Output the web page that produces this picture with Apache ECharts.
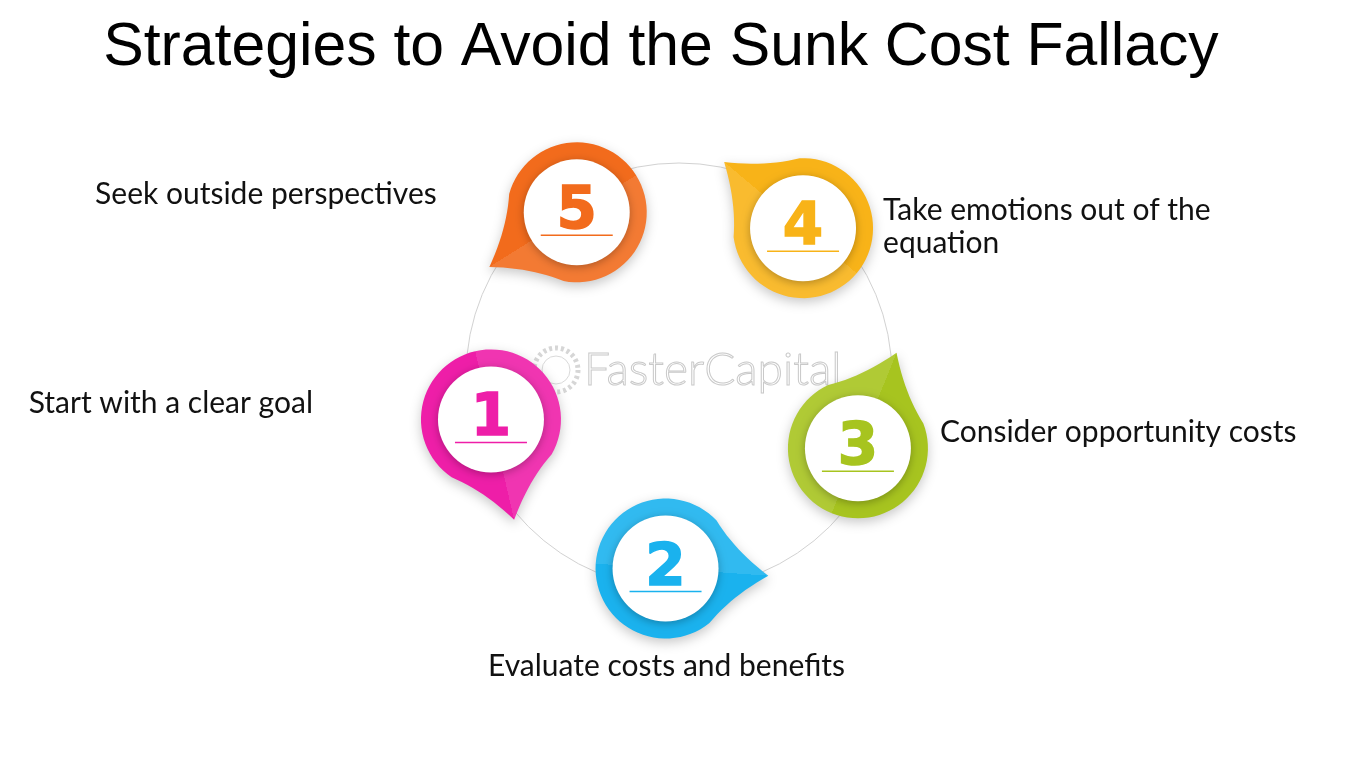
<!DOCTYPE html>
<html>
<head>
<meta charset="utf-8">
<title>Strategies to Avoid the Sunk Cost Fallacy</title>
<script src="https://cdn.jsdelivr.net/npm/echarts@6/dist/echarts.min.js"></script>
<style>
  html, body { margin: 0; padding: 0; background: #ffffff; }
  #main { width: 1359px; height: 759px; }
</style>
</head>
<body>
<div id="main"></div>
<script>
var steps  = ['1', '2', '3', '4', '5'];
var labels = [
    'Start with a clear goal',
    'Evaluate costs and benefits',
    'Consider opportunity costs',
    'Take emotions out of the\nequation',
    'Seek outside perspectives'
];
// position of each step around the ring, degrees (0 = east, counter-clockwise)
var angles = [193, 266, 338, 50, 122];
var colors = ['#EE1EA8', '#1AB2EE', '#A7C41F', '#F8B318', '#F26B1C'];

// where each caption sits next to its marker
var labelLayout = [
    { align: 'right',  dx: -178, dy: -16 },
    { align: 'center', dx: 1,    dy: 98 },
    { align: 'left',   dx: 82,   dy: -16 },
    { align: 'left',   dx: 80,   dy: -1 },
    { align: 'right',  dx: -140, dy: -18 }
];

var lighten = function (hex, k) {
    var n = parseInt(hex.slice(1), 16);
    var r = n >> 16, g = (n >> 8) & 255, b = n & 255;
    r = Math.round(r + (255 - r) * k);
    g = Math.round(g + (255 - g) * k);
    b = Math.round(b + (255 - b) * k);
    return 'rgb(' + r + ',' + g + ',' + b + ')';
};

// teardrop outline: round part of radius R, tip at distance d along (ux, uy)
var dropPoints = function (cx, cy, ux, uy, R, d) {
    var pts = [];
    var base = Math.atan2(uy, ux);
    var phi = Math.acos(R / d);
    var tip = [cx + ux * d, cy + uy * d];
    var a0 = base + phi, a1 = base + 2 * Math.PI - phi;
    var A = [cx + R * Math.cos(a0), cy + R * Math.sin(a0)];
    var B = [cx + R * Math.cos(a1), cy + R * Math.sin(a1)];
    var bend = function (P) {
        var mx = (tip[0] + P[0]) / 2, my = (tip[1] + P[1]) / 2;
        return [mx + (cx - mx) * 0.1, my + (cy - my) * 0.1];
    };
    var q = function (P0, C, P1, t) {
        var s = 1 - t;
        return [s * s * P0[0] + 2 * s * t * C[0] + t * t * P1[0],
                s * s * P0[1] + 2 * s * t * C[1] + t * t * P1[1]];
    };
    var i, cA = bend(A), cB = bend(B);
    for (i = 0; i < 12; i++) pts.push(q(tip, cA, A, i / 12));
    for (i = 0; i <= 60; i++) {
        var a = a0 + (a1 - a0) * i / 60;
        pts.push([cx + R * Math.cos(a), cy + R * Math.sin(a)]);
    }
    for (i = 1; i < 12; i++) pts.push(q(B, cB, tip, i / 12));
    return pts;
};

var renderMarker = function (params, api) {
    var i = api.value(2);
    var p = api.coord([api.value(0), api.value(1)]);
    var c = api.coord([0, 0]);
    var vx = p[0] - c[0], vy = p[1] - c[1];
    var len = Math.sqrt(vx * vx + vy * vy);
    // tip follows the ring towards the previous step
    var ux = vy / len, uy = -vx / len;
    var nx = uy, ny = -ux;
    var R = 70, color = colors[i];
    var lay = labelLayout[i];
    return {
        type: 'group',
        children: [
            {
                type: 'polygon',
                shape: { points: dropPoints(p[0], p[1], ux, uy, R, 103) },
                style: {
                    fill: {
                        type: 'linear', global: true,
                        x: p[0] - nx * R, y: p[1] - ny * R,
                        x2: p[0] + nx * R, y2: p[1] + ny * R,
                        colorStops: [
                            { offset: 0, color: color },
                            { offset: 0.5, color: color },
                            { offset: 0.5, color: lighten(color, 0.1) },
                            { offset: 1, color: lighten(color, 0.1) }
                        ]
                    },
                    shadowBlur: 12,
                    shadowOffsetY: 4,
                    shadowColor: 'rgba(0,0,0,0.22)'
                }
            },
            {
                type: 'circle',
                shape: { cx: p[0], cy: p[1], r: 53 },
                style: {
                    fill: '#ffffff',
                    shadowBlur: 8,
                    shadowOffsetY: 2,
                    shadowColor: 'rgba(0,0,0,0.28)'
                }
            },
            {
                type: 'text',
                x: p[0], y: p[1] + 1,
                style: {
                    text: steps[i],
                    fill: color,
                    stroke: color,
                    lineWidth: 1.5,
                    font: 'bold 58px "DejaVu Sans"',
                    align: 'center',
                    verticalAlign: 'middle'
                }
            },
            {
                type: 'line',
                shape: { x1: p[0] - 36, y1: p[1] + 23, x2: p[0] + 36, y2: p[1] + 23 },
                style: { stroke: color, lineWidth: 1.5 }
            },
            {
                type: 'text',
                x: p[0] + lay.dx, y: p[1] + lay.dy,
                style: {
                    text: labels[i],
                    fill: '#111111',
                    font: '30px Lato',
                    lineHeight: 33,
                    align: lay.align,
                    verticalAlign: 'middle'
                }
            }
        ]
    };
};

var chart = echarts.init(document.getElementById('main'));
chart.setOption({
    backgroundColor: '#ffffff',
    animation: false,
    title: {
        text: 'Strategies to Avoid the Sunk Cost Fallacy',
        left: 656,
        top: 13,
        textAlign: 'center',
        textStyle: {
            fontFamily: 'Liberation Sans',
            fontSize: 60.7,
            fontWeight: 'normal',
            color: '#000000'
        }
    },
    polar: { center: [679, 376], radius: 213 },
    angleAxis: {
        type: 'value', min: 0, max: 360, startAngle: 0, clockwise: false,
        axisLine: { show: true, lineStyle: { color: '#d2d2d2', width: 1 } },
        axisTick: { show: false },
        axisLabel: { show: false },
        splitLine: { show: false }
    },
    radiusAxis: { type: 'value', min: 0, max: 1, show: false },
    graphic: [
        {
            type: 'circle', shape: { cx: 556, cy: 370, r: 22 },
            style: { fill: 'none', stroke: '#d6d6d6', lineWidth: 5, lineDash: [3, 3] }
        },
        {
            type: 'circle', shape: { cx: 556, cy: 370, r: 14 },
            style: { fill: 'none', stroke: '#dadada', lineWidth: 1 }
        },
        {
            type: 'text', x: 584, y: 370,
            style: {
                text: 'FasterCapital',
                font: '300 46px Lato',
                fill: 'rgba(255,255,255,0)',
                stroke: '#c9c9c9',
                lineWidth: 1,
                verticalAlign: 'middle'
            }
        }
    ],
    series: [{
        type: 'custom',
        coordinateSystem: 'polar',
        renderItem: renderMarker,
        data: angles.map(function (a, i) { return [0.906, a, i]; })
    }]
});
</script>
</body>
</html>
